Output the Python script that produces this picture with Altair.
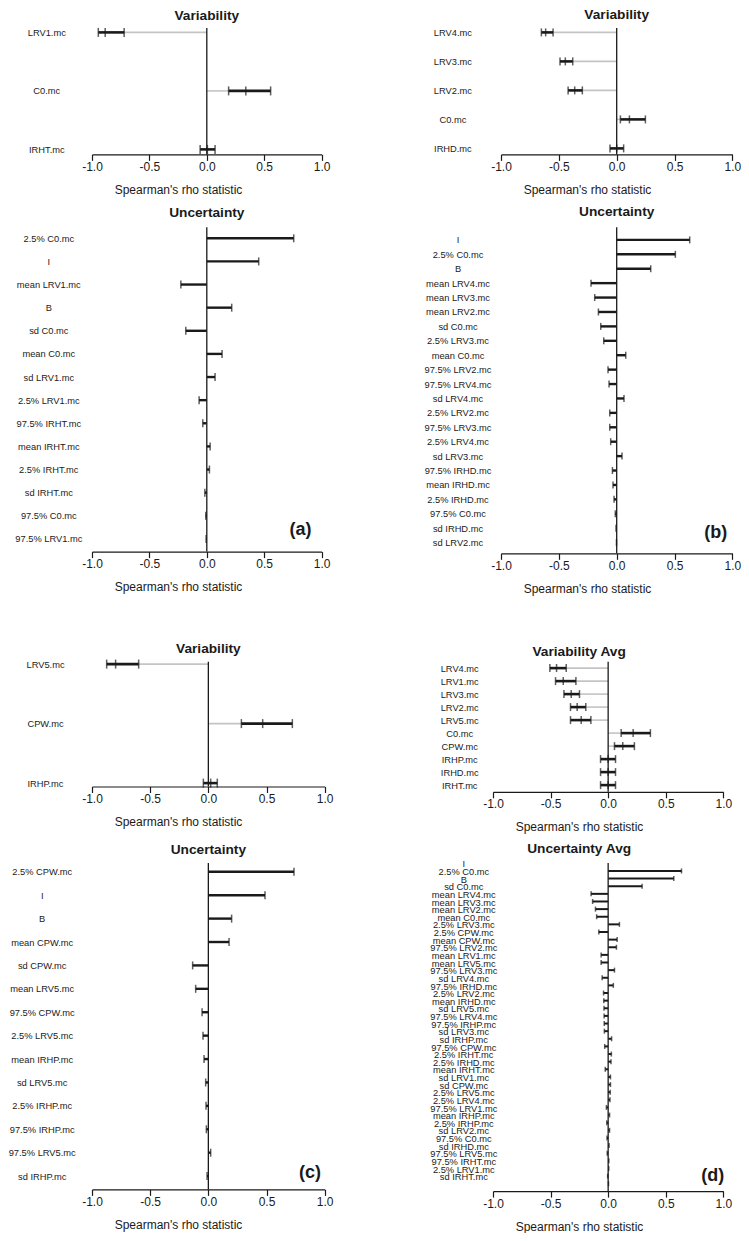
import altair as alt
import pandas as pd

FONT = "Liberation Sans"
INK = "#1a1a1a"
GRAY = "#c4c4c4"
X_TICKS = [-1.0, -0.5, 0.0, 0.5, 1.0]

# ---------------- (a) ----------------
a_var_params = ["LRV1.mc", "C0.mc", "IRHT.mc"]
a_var_low = [-0.945, 0.19, -0.058]
a_var_mid = [-0.885, 0.34, 0.005]
a_var_high = [-0.72, 0.556, 0.072]

a_unc_params = ["2.5% C0.mc", "I", "mean LRV1.mc", "B", "sd C0.mc", "mean C0.mc",
                "sd LRV1.mc", "2.5% LRV1.mc", "97.5% IRHT.mc", "mean IRHT.mc",
                "2.5% IRHT.mc", "sd IRHT.mc", "97.5% C0.mc", "97.5% LRV1.mc"]
a_unc_rho = [0.757, 0.452, -0.226, 0.217, -0.183, 0.133, 0.072, -0.067, -0.035,
             0.029, 0.023, -0.017, -0.009, -0.006]

# ---------------- (b) ----------------
b_var_params = ["LRV4.mc", "LRV3.mc", "LRV2.mc", "C0.mc", "IRHD.mc"]
b_var_low = [-0.651, -0.49, -0.42, 0.032, -0.058]
b_var_mid = [-0.614, -0.444, -0.363, 0.11, 0.0]
b_var_high = [-0.55, -0.38, -0.297, 0.248, 0.06]

b_unc_params = ["I", "2.5% C0.mc", "B", "mean LRV4.mc", "mean LRV3.mc", "mean LRV2.mc",
                "sd C0.mc", "2.5% LRV3.mc", "mean C0.mc", "97.5% LRV2.mc", "97.5% LRV4.mc",
                "sd LRV4.mc", "2.5% LRV2.mc", "97.5% LRV3.mc", "2.5% LRV4.mc", "sd LRV3.mc",
                "97.5% IRHD.mc", "mean IRHD.mc", "2.5% IRHD.mc", "97.5% C0.mc",
                "sd IRHD.mc", "sd LRV2.mc"]
b_unc_rho = [0.631, 0.507, 0.294, -0.222, -0.19, -0.158, -0.138, -0.112, 0.078, -0.075,
             -0.066, 0.063, -0.06, -0.06, -0.052, 0.046, -0.037, -0.032, -0.023, -0.012,
             -0.006, -0.002]

# ---------------- (c) ----------------
c_var_params = ["LRV5.mc", "CPW.mc", "IRHP.mc"]
c_var_low = [-0.874, 0.284, -0.043]
c_var_mid = [-0.797, 0.467, 0.02]
c_var_high = [-0.599, 0.722, 0.077]

c_unc_params = ["2.5% CPW.mc", "I", "B", "mean CPW.mc", "sd CPW.mc", "mean LRV5.mc",
                "97.5% CPW.mc", "2.5% LRV5.mc", "mean IRHP.mc", "sd LRV5.mc",
                "2.5% IRHP.mc", "97.5% IRHP.mc", "97.5% LRV5.mc", "sd IRHP.mc"]
c_unc_rho = [0.736, 0.487, 0.2, 0.178, -0.135, -0.109, -0.054, -0.046, -0.037, -0.023,
             -0.02, -0.017, 0.02, -0.011]

# ---------------- (d) ----------------
d_var_params = ["LRV4.mc", "LRV1.mc", "LRV3.mc", "LRV2.mc", "LRV5.mc", "C0.mc",
                "CPW.mc", "IRHP.mc", "IRHD.mc", "IRHT.mc"]
d_var_low = [-0.506, -0.457, -0.384, -0.327, -0.327, 0.113, 0.055, -0.066, -0.066, -0.066]
d_var_mid = [-0.448, -0.39, -0.321, -0.269, -0.234, 0.217, 0.127, 0.0, 0.0, 0.0]
d_var_high = [-0.364, -0.28, -0.249, -0.194, -0.15, 0.367, 0.228, 0.064, 0.064, 0.064]

d_unc_params = ["I", "2.5% C0.mc", "B", "sd C0.mc", "mean LRV4.mc", "mean LRV3.mc",
                "mean LRV2.mc", "mean C0.mc", "2.5% LRV3.mc", "2.5% CPW.mc", "mean CPW.mc",
                "97.5% LRV2.mc", "mean LRV1.mc", "mean LRV5.mc", "97.5% LRV3.mc",
                "sd LRV4.mc", "97.5% IRHD.mc", "2.5% LRV2.mc", "mean IRHD.mc", "sd LRV5.mc",
                "97.5% LRV4.mc", "97.5% IRHP.mc", "sd LRV3.mc", "sd IRHP.mc",
                "97.5% CPW.mc", "2.5% IRHT.mc", "2.5% IRHD.mc", "mean IRHT.mc",
                "sd LRV1.mc", "sd CPW.mc", "2.5% LRV5.mc", "2.5% LRV4.mc",
                "97.5% LRV1.mc", "mean IRHP.mc", "2.5% IRHP.mc", "sd LRV2.mc",
                "97.5% C0.mc", "sd IRHD.mc", "97.5% LRV5.mc", "97.5% IRHT.mc",
                "2.5% LRV1.mc", "sd IRHT.mc"]
d_unc_rho = [0.637, 0.57, 0.295, -0.148, -0.135, -0.11, -0.10, 0.098, -0.081, 0.078,
             0.072, -0.061, -0.061, 0.055, -0.052, 0.045, -0.04, -0.038, -0.036, -0.035,
             -0.034, -0.033, 0.03, -0.03, 0.028, 0.025, -0.025, 0.02, 0.02, 0.018,
             0.016, -0.015, 0.012, -0.012, 0.012, -0.01, 0.008, -0.008, 0.006, 0.005,
             -0.004, 0.003]


def x_axis():
    return alt.Axis(values=X_TICKS,
                    labelExpr="(datum.value < 0 ? '-' : '') + format(abs(datum.value), '.1f')",
                    labelFlush=False, labelOverlap=False, labelFontSize=12, labelFont=FONT,
                    labelColor=INK, labelPadding=1, tickSize=6, tickWidth=1.2, tickColor=INK,
                    domainColor=INK, domainWidth=1.2, grid=False,
                    title="Spearman's rho statistic", titleFont=FONT, titleFontSize=12,
                    titleFontWeight="normal", titleColor=INK, titleX=86, titleY=35,
                    titleAlign="center", titleBaseline="middle")


def y_axis(pad, offset=0, size=9.3):
    return alt.Axis(title=None, domain=False, ticks=False, tickSize=0, labelAlign="center",
                    labelBaseline="middle", labelPadding=pad, labelOffset=offset,
                    labelFontSize=size, labelFont=FONT, labelColor=INK, labelOverlap=False,
                    labelLimit=0, grid=False)


def title_params(text, off, dx=0, dy=15):
    return alt.TitleParams(text=text, font=FONT, fontSize=13.7, fontWeight="bold", color=INK,
                           baseline="alphabetic", offset=off, dx=dx, dy=dy, anchor="middle")


def xenc(field):
    return alt.X(field, type="quantitative",
                 scale=alt.Scale(domain=[-1, 1], nice=False, zero=False), axis=x_axis())


def variability(params, low, mid, high, W, H, pad, align, lab_pad, t_off, cap,
                title="Variability", t_dx=0, t_dy=15):
    df = pd.DataFrame({"param": params, "low": low, "mid": mid, "high": high})
    df["g_from"] = df["high"].where(df["high"] < 0, 0.0)
    df["g_to"] = df["low"].where(df["low"] > 0, 0.0)
    caps = df.melt(id_vars="param", value_vars=["low", "mid", "high"], value_name="rho")
    Y = alt.Y("param:N", scale=alt.Scale(type="point", domain=params, padding=pad, align=align),
              axis=y_axis(lab_pad))
    gray = alt.Chart(df).mark_rule(color=GRAY, strokeWidth=1.6).encode(
        x=xenc("g_from"), x2="g_to:Q", y=Y)
    zero = alt.Chart(pd.DataFrame({"z": [0.0]})).mark_rule(color=INK, strokeWidth=1.3).encode(
        x=xenc("z"))
    ci = alt.Chart(df).mark_rule(color=INK, strokeWidth=2.6).encode(
        x=xenc("low"), x2="high:Q", y=Y)
    tk = alt.Chart(caps).mark_tick(color=INK, size=cap, thickness=1.5).encode(
        x=xenc("rho"), y=Y)
    return alt.layer(gray, zero, ci, tk).properties(
        width=W, height=H, title=title_params(title, t_off, t_dx, t_dy))


def uncertainty(params, rho, W, H, pad, align, lab_pad, t_off, cap, tag, tag_x, tag_row,
                tag_dy, lab_off=0, bar_w=2.4, title="Uncertainty", t_dx=0, t_dy=15):
    df = pd.DataFrame({"param": params, "rho": rho, "base": [0.0] * len(params)})
    Y = alt.Y("param:N", scale=alt.Scale(type="point", domain=params, padding=pad, align=align),
              axis=y_axis(lab_pad, lab_off))
    zero = alt.Chart(pd.DataFrame({"z": [0.0]})).mark_rule(color=INK, strokeWidth=1.3).encode(
        x=xenc("z"))
    bars = alt.Chart(df).mark_rule(color=INK, strokeWidth=bar_w).encode(
        x=xenc("base"), x2="rho:Q", y=Y)
    tk = alt.Chart(df).mark_tick(color=INK, size=cap, thickness=1.5).encode(
        x=xenc("rho"), y=Y)
    tg = alt.Chart(pd.DataFrame({"tag": [tag], "tx": [tag_x], "ty": [tag_row]})).mark_text(
        font=FONT, fontSize=18, fontWeight="bold", color=INK, dy=tag_dy, baseline="middle").encode(
        x=xenc("tx"), y=alt.Y("ty:N", scale=alt.Scale(type="point", domain=params, padding=pad,
                                                      align=align), axis=y_axis(lab_pad, lab_off)),
        text="tag:N")
    return alt.layer(zero, bars, tk, tg).properties(
        width=W, height=H, title=title_params(title, t_off, t_dx, t_dy))


pa_v = variability(a_var_params, a_var_low, a_var_mid, a_var_high, 229.6, 126.4, 0.0803, 0.468,
                   45.7, 9, 9)
pb_v = variability(b_var_params, b_var_low, b_var_mid, b_var_high, 231.4, 126.4, 0.1793, 0.423,
                   48.6, 9.3, 8)
pa_u = uncertainty(a_unc_params, a_unc_rho, 229.6, 324.3, 0.5125, 0.464, 43.7, 10.7, 8,
                   "(a)", 0.817, "97.5% LRV1.mc", -9)
pb_u = uncertainty(b_unc_params, b_unc_rho, 231.4, 326, 0.808, 0.541, 43.5, 12.4, 7,
                   "(b)", 0.856, "sd IRHD.mc", 5)
pc_v = variability(c_var_params, c_var_low, c_var_mid, c_var_high, 232.7, 124.7, 0.0479, 0.404,
                   47.0, 10, 9, t_dy=17)
pd_v = variability(d_var_params, d_var_low, d_var_mid, d_var_high, 230.3, 130, 0.5, 0.485,
                   33.8, 6.7, 8, title="Variability Avg", t_dx=-29)
pc_u = uncertainty(c_unc_params, c_unc_rho, 232.7, 326.3, 0.47, 0.395, 50.3, 9.7, 8,
                   "(c)", 0.874, "sd IRHP.mc", -3)
pd_u = uncertainty(d_unc_params, d_unc_rho, 230.3, 328, 1.662, 0.516, 29.7, 8.7, 5,
                   "(d)", 0.909, "sd IRHT.mc", -8, lab_off=-7, bar_w=2.0,
                   title="Uncertainty Avg", t_dx=-29)

row1 = alt.hconcat(pa_v, pb_v, spacing=179, bounds="flush")
row2 = alt.hconcat(pa_u, pb_u, spacing=179, bounds="flush")
row3 = alt.hconcat(pc_v, pd_v, spacing=168, bounds="flush")
row4 = alt.hconcat(pc_u, pd_u, spacing=168, bounds="flush")

top = alt.vconcat(row1, row2, spacing=8.3)
bottom = alt.vconcat(row3, row4, spacing=8.3)

chart = alt.vconcat(top, bottom, spacing=46.8).properties(padding=0).configure_view(stroke=None)

chart.save("out.html", embed_options={"renderer": "svg", "actions": False})
